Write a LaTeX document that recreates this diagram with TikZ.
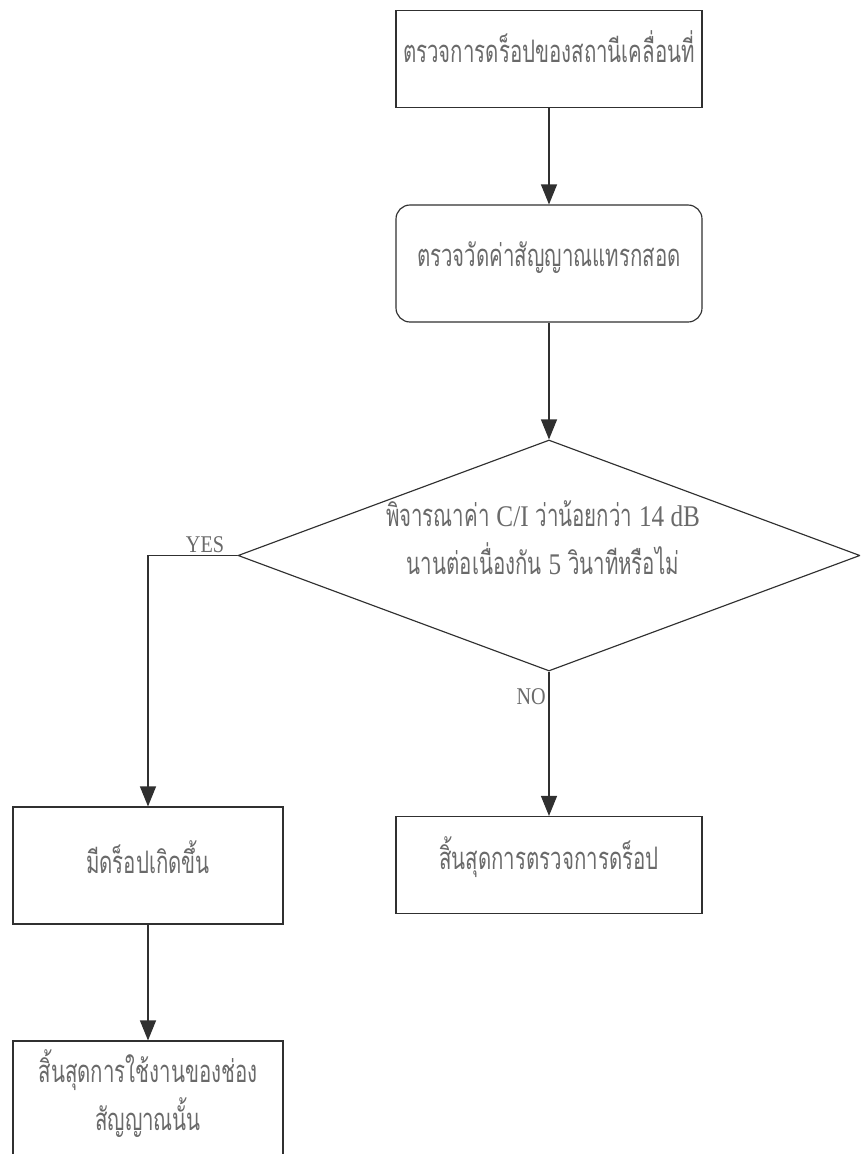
\documentclass[tikz,border=0pt]{standalone}
\usepackage{fontspec}
\newfontfamily\thaifont[Script=Thai,FakeStretch=0.66]{Loma}
\newfontfamily\latfont[FakeStretch=0.84]{Liberation Serif}
\usetikzlibrary{shapes.geometric,arrows.meta}
\definecolor{linecol}{HTML}{303030}
\definecolor{textcol}{HTML}{6A6A6A}
\newcommand{\latin}[1]{{\latfont\fontsize{30}{48}\selectfont #1}}
\tikzset{
  box/.style={draw=linecol, line width=1.15pt, rectangle, inner sep=0pt,
              minimum width=306pt, minimum height=97pt},
  roundbox/.style={box, rounded corners=14pt, minimum height=117pt},
  lowbox/.style={box, minimum width=270pt, minimum height=117pt},
  decision/.style={draw=linecol, line width=1.15pt, diamond, inner sep=0pt,
              minimum width=622pt, minimum height=231pt},
  txt/.style={text=textcol, font=\thaifont\fontsize{31}{48}\selectfont, align=center},
  lbl/.style={text=textcol, font=\latfont\fontsize{24}{26}\selectfont, inner sep=1pt},
  arr/.style={draw=linecol, line width=1.15pt, -{Triangle[length=20pt,width=16pt]}},
}
\begin{document}
\begin{tikzpicture}[x=1pt,y=-1pt]
\clip (0,0) rectangle (860,1154);
\fill[white] (0,0) rectangle (860,1154);

% process boxes
\node[box] (check) at (549,59) {};
\node[txt] at (549,47) {ตรวจการดร็อปของสถานีเคลื่อนที่};

\node[box, roundbox] (measure) at (549,263.5) {};
\node[txt] at (549,258) {ตรวจวัดค่าสัญญาณแทรกสอด};

% decision
\node[decision] (dec) at (549,555.5) {};
\node[txt] at (543,538) {พิจารณาค่า \latin{C/I} ว่าน้อยกว่า \latin{14 dB}\\นานต่อเนื่องกัน \latin{5} วินาทีหรือไม่};

% outcomes
\node[box, lowbox] (drop) at (148,865.5) {};
\node[txt] at (148,857) {มีดร็อปเกิดขึ้น};

\node[box] (finish) at (549,865) {};
\node[txt] at (549,857) {สิ้นสุดการตรวจการดร็อป};

\node[box, lowbox, minimum height=140pt] (release) at (148,1111) {};
\node[txt] at (148,1094) {สิ้นสุดการใช้งานของช่อง\\สัญญาณนั้น};

% connectors
\draw[arr] (check) -- (measure);
\draw[arr] (measure) -- (dec);
\draw[arr] (dec.west) -| (drop.north);
\draw[arr] (dec.south) -- (finish.north);
\draw[arr] (drop) -- (release);

% branch labels
\node[lbl, anchor=south] at (205,554) {YES};
\node[lbl, anchor=east] at (547,697) {NO};
\end{tikzpicture}
\end{document}
